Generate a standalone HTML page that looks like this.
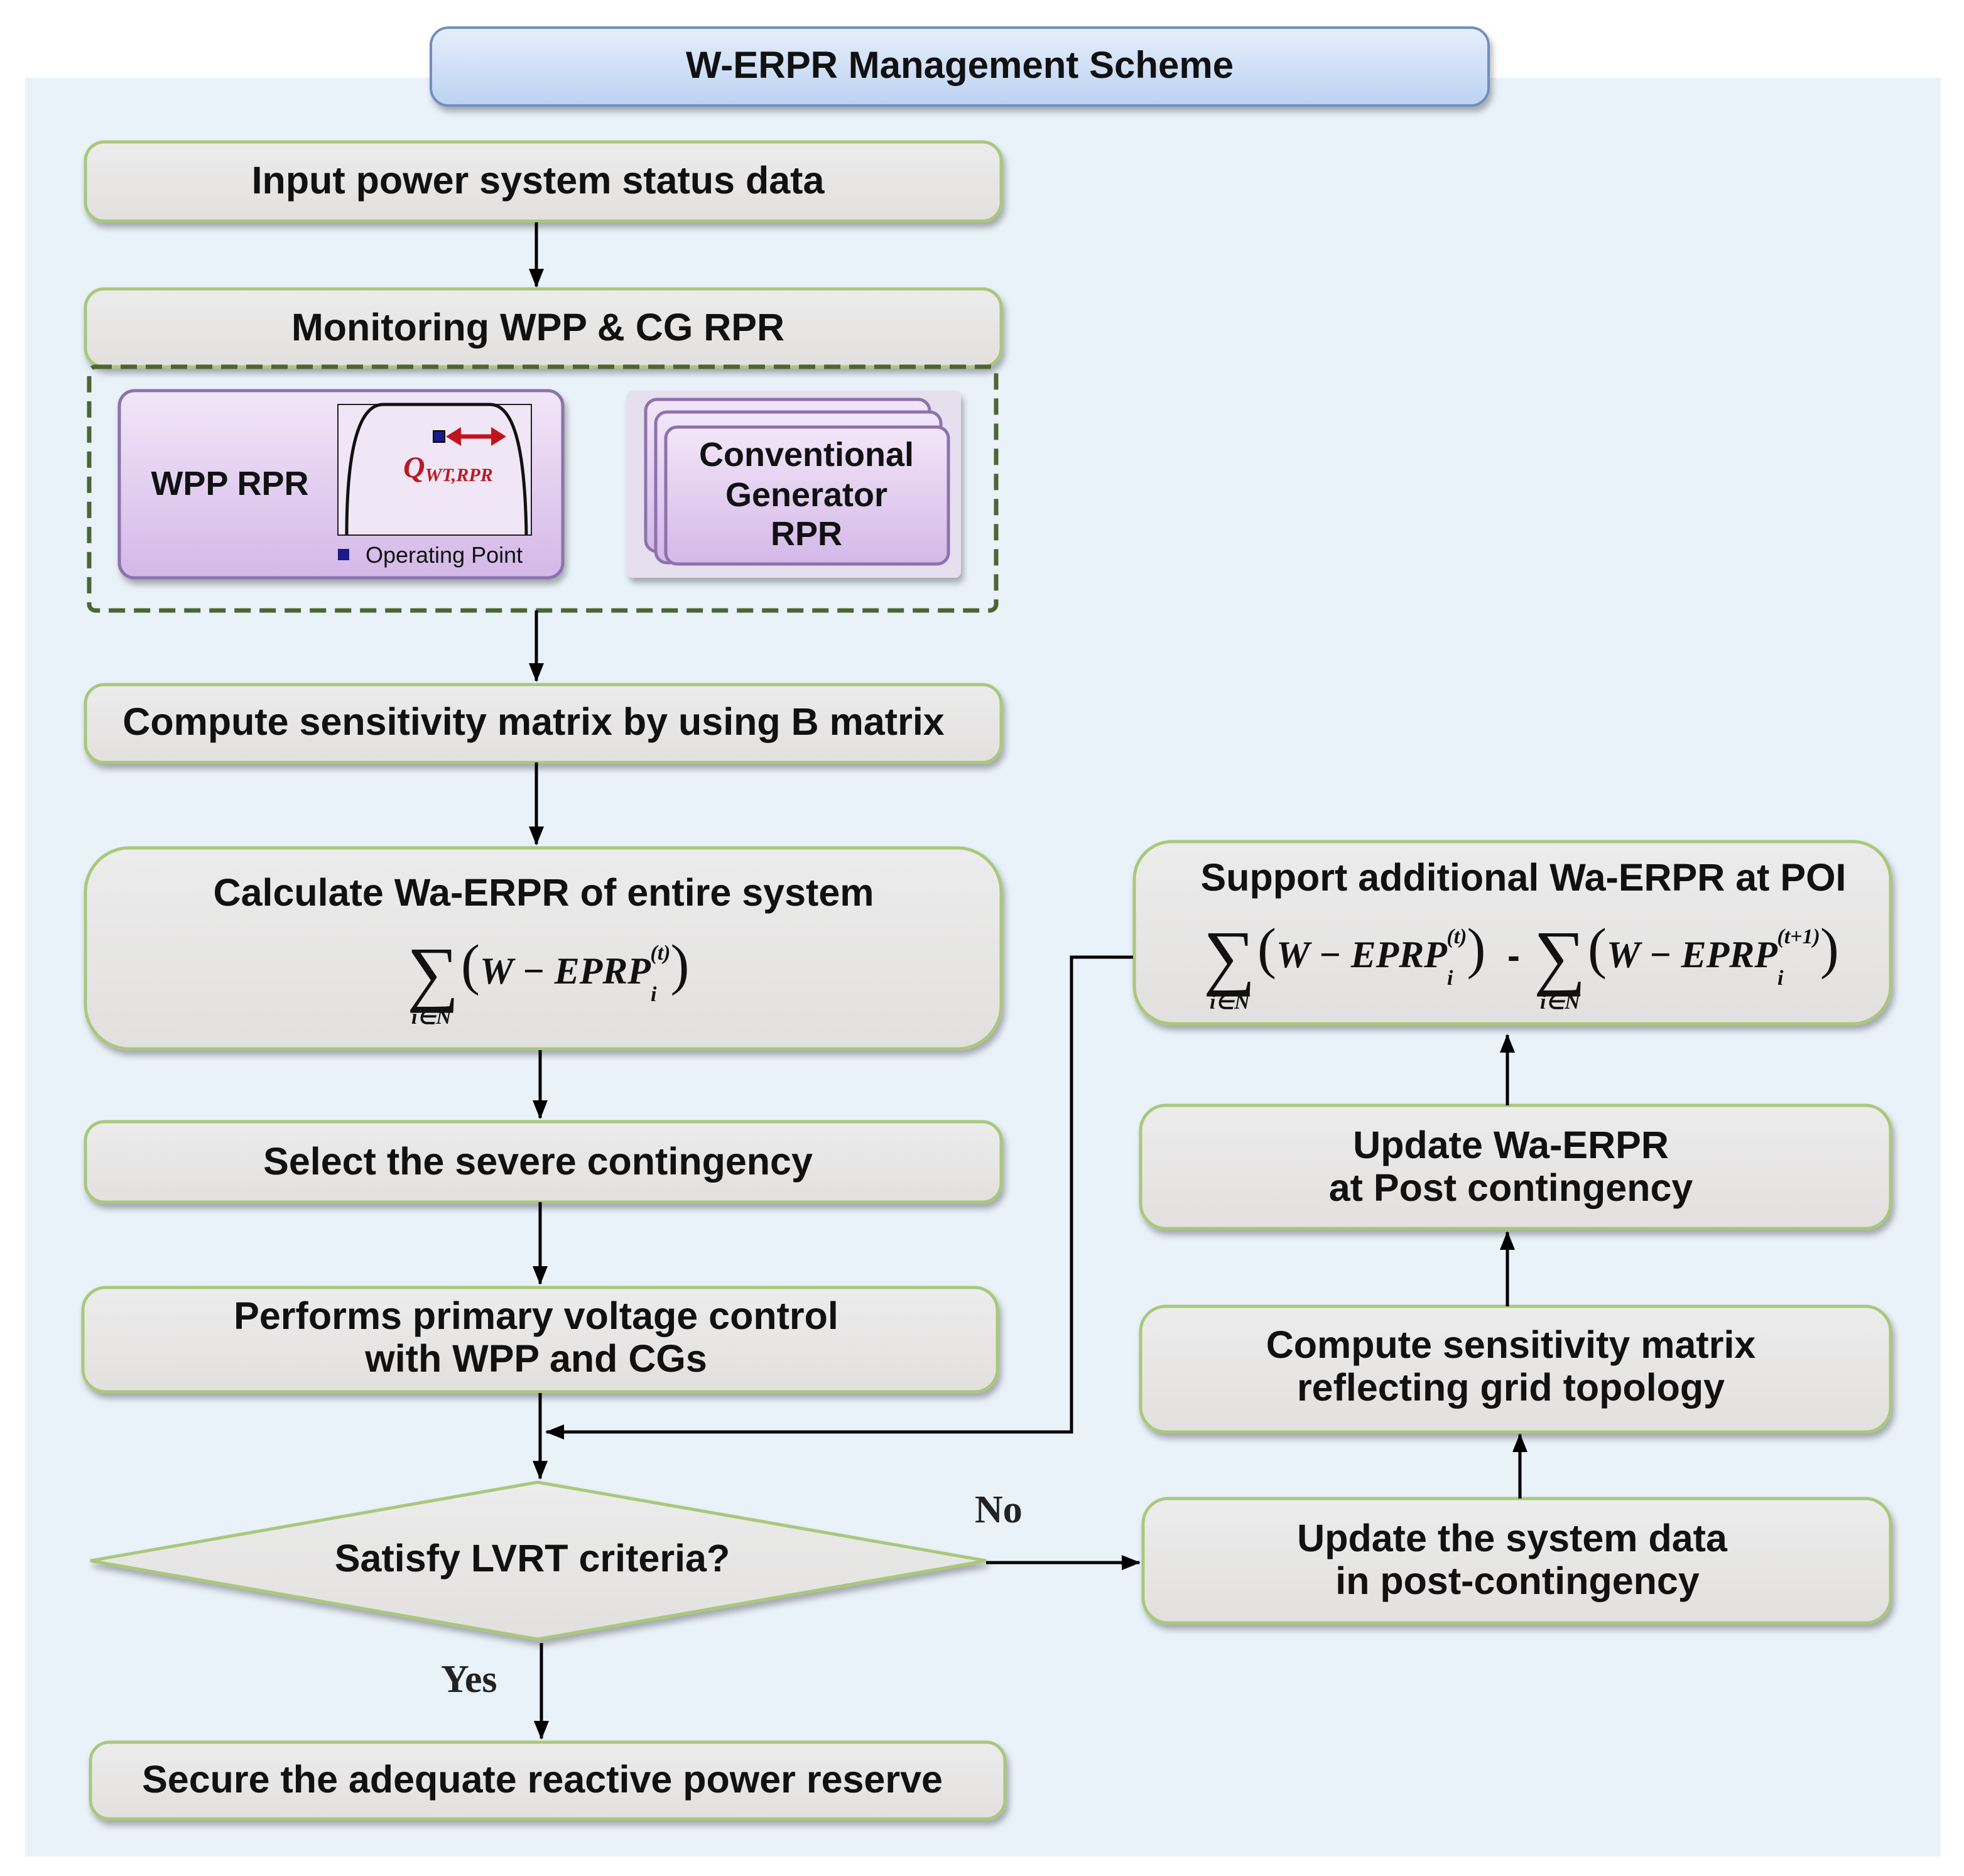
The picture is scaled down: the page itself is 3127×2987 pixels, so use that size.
<!DOCTYPE html>
<html><head><meta charset="utf-8"><style>
html,body{margin:0;padding:0;background:#fff;}
svg{display:block;}
.t{font-family:"Liberation Sans",sans-serif;font-weight:bold;fill:#111;}
.m{font-family:"Liberation Serif",serif;font-style:italic;font-weight:bold;fill:#111;}
.n{font-style:normal;font-weight:normal;}
</style></head><body>
<svg width="3127" height="2987" viewBox="0 0 3127 2987" xmlns="http://www.w3.org/2000/svg">
<defs>
<linearGradient id="gb" x1="0" y1="0" x2="0" y2="1"><stop offset="0" stop-color="#e6eefb"/><stop offset="1" stop-color="#bcd2f2"/></linearGradient>
<linearGradient id="gg" x1="0" y1="0" x2="0" y2="1"><stop offset="0" stop-color="#ececec"/><stop offset="1" stop-color="#e2e0df"/></linearGradient>
<linearGradient id="gp" x1="0" y1="0" x2="0" y2="1"><stop offset="0" stop-color="#f2e6f8"/><stop offset="1" stop-color="#d4b8e8"/></linearGradient>
<filter id="sh" x="-5%" y="-10%" width="110%" height="130%"><feDropShadow dx="4" dy="8" stdDeviation="5" flood-color="#000" flood-opacity="0.3"/></filter>
<marker id="ar" markerWidth="30" markerHeight="24" refX="28" refY="12" orient="auto" markerUnits="userSpaceOnUse" viewBox="0 0 30 24"><path d="M0,0 L30,12 L0,24 z" fill="#000"/></marker>
</defs>
<rect x="40" y="124" width="3050" height="2832" fill="#e9f1f9"/>

<rect x="686" y="44" width="1684" height="124" rx="28" fill="url(#gb)" stroke="#6f8fc0" stroke-width="4" filter="url(#sh)"/>
<text class="t" x="1528" y="124" font-size="60" text-anchor="middle">W-ERPR Management Scheme</text>

<g fill="url(#gg)" stroke="#a9c87a" stroke-width="5" filter="url(#sh)">
<rect x="136" y="226" width="1458" height="126" rx="30"/>
<rect x="136" y="460" width="1458" height="124" rx="30"/>
<rect x="136" y="1090" width="1458" height="124" rx="30"/>
<rect x="136" y="1350" width="1458" height="320" rx="70"/>
<rect x="136" y="1786" width="1458" height="128" rx="30"/>
<rect x="132" y="2050" width="1456" height="166" rx="36"/>
<rect x="144" y="2774" width="1456" height="122" rx="30"/>
<rect x="1806" y="1340" width="1204" height="290" rx="60"/>
<rect x="1816" y="1760" width="1194" height="196" rx="40"/>
<rect x="1816" y="2080" width="1194" height="200" rx="40"/>
<rect x="1820" y="2386" width="1190" height="198" rx="40"/>
<polygon points="144,2485 856,2360 1570,2485 856,2610"/>
</g>

<rect x="142" y="584" width="1444" height="388" rx="10" fill="none" stroke="#4b6633" stroke-width="7" stroke-dasharray="26,14"/>

<rect x="190" y="622" width="706" height="298" rx="24" fill="url(#gp)" stroke="#8d72ad" stroke-width="5" filter="url(#sh)"/>
<text class="t" x="366" y="788" font-size="54" text-anchor="middle">WPP RPR</text>
<rect x="538" y="644" width="308" height="208" fill="#f0e6f6" stroke="#222" stroke-width="2"/>
<path d="M552,852 C552,720 570,644 610,644 L780,644 C820,644 836,720 838,852" fill="none" stroke="#111" stroke-width="5"/>
<rect x="690" y="686" width="18" height="18" fill="#1a1a8a" stroke="#000" stroke-width="2"/>
<line x1="722" y1="695" x2="794" y2="695" stroke="#c0141c" stroke-width="7"/>
<path d="M710,695 L734,680 L734,710 z M806,695 L782,680 L782,710 z" fill="#c0141c"/>
<text class="m" x="642" y="760" font-size="48" style="fill:#b71c24">Q<tspan font-size="30" dy="6">WT,RPR</tspan></text>
<rect x="538" y="874" width="18" height="18" fill="#1a1a8a"/>
<text x="582" y="896" font-size="36" font-family="Liberation Sans,sans-serif" fill="#111">Operating Point</text>

<rect x="998" y="622" width="532" height="298" rx="10" fill="#e6dfee" filter="url(#sh)"/>
<g fill="url(#gp)" stroke="#8d72ad" stroke-width="5">
<rect x="1028" y="636" width="452" height="242" rx="18"/>
<rect x="1044" y="656" width="454" height="240" rx="18"/>
<rect x="1060" y="680" width="450" height="218" rx="18"/>
</g>
<text class="t" font-size="54" text-anchor="middle"><tspan x="1284" y="742">Conventional</tspan><tspan x="1284" y="806">Generator</tspan><tspan x="1284" y="868">RPR</tspan></text>

<text class="t" font-size="61" text-anchor="middle">
<tspan x="865" y="308">Input power system status data</tspan>
<tspan x="865" y="542">Monitoring WPP &amp; CG RPR</tspan>
<tspan x="858" y="1170">Compute sensitivity matrix by using B matrix</tspan>
<tspan x="874" y="1442">Calculate Wa-ERPR of entire system</tspan>
<tspan x="865" y="1870">Select the severe contingency</tspan>
<tspan x="862" y="2116">Performs primary voltage control</tspan>
<tspan x="862" y="2184">with WPP and CGs</tspan>
<tspan x="856" y="2502">Satisfy LVRT criteria?</tspan>
<tspan x="872" y="2854">Secure the adequate reactive power reserve</tspan>
<tspan x="2434" y="1418">Support additional Wa-ERPR at POI</tspan>
<tspan x="2414" y="1844">Update Wa-ERPR</tspan>
<tspan x="2414" y="1912">at Post contingency</tspan>
<tspan x="2414" y="2162">Compute sensitivity matrix</tspan>
<tspan x="2414" y="2230">reflecting grid topology</tspan>
<tspan x="2416" y="2470">Update the system data</tspan>
<tspan x="2416" y="2538">in post-contingency</tspan>
</text>

<!-- math left -->
<text class="m n" x="648" y="1588" font-size="116">∑</text>
<text class="m" x="655" y="1630" font-size="34">i∈N</text>
<text class="m" x="734" y="1566" font-size="60"><tspan class="n" font-size="90">(</tspan>W − EPRP<tspan font-size="34" dy="28">i</tspan><tspan font-size="34" dx="-10" dy="-66">(t)</tspan><tspan class="n" font-size="90" dy="38">)</tspan></text>

<!-- math right -->
<text class="m n" x="1916" y="1562" font-size="116">∑</text>
<text class="m" x="1926" y="1606" font-size="34">i∈N</text>
<text class="m" x="2002" y="1540" font-size="60"><tspan class="n" font-size="90">(</tspan>W − EPRP<tspan font-size="34" dy="28">i</tspan><tspan font-size="34" dx="-10" dy="-66">(t)</tspan><tspan class="n" font-size="90" dy="38">)</tspan></text>
<text class="t" x="2400" y="1542" font-size="60">-</text>
<text class="m n" x="2442" y="1562" font-size="116">∑</text>
<text class="m" x="2452" y="1606" font-size="34">i∈N</text>
<text class="m" x="2528" y="1540" font-size="60"><tspan class="n" font-size="90">(</tspan>W − EPRP<tspan font-size="34" dy="28">i</tspan><tspan font-size="34" dx="-10" dy="-66">(t+1)</tspan><tspan class="n" font-size="90" dy="38">)</tspan></text>

<g stroke="#000" stroke-width="5" fill="none" marker-end="url(#ar)">
<line x1="854" y1="354" x2="854" y2="456"/>
<line x1="854" y1="972" x2="854" y2="1084"/>
<line x1="854" y1="1214" x2="854" y2="1344"/>
<line x1="860" y1="1672" x2="860" y2="1780"/>
<line x1="860" y1="1914" x2="860" y2="2044"/>
<line x1="860" y1="2218" x2="860" y2="2354"/>
<polyline points="1804,1524 1706,1524 1706,2280 870,2280"/>
<line x1="1570" y1="2488" x2="1814" y2="2488"/>
<line x1="862" y1="2616" x2="862" y2="2768"/>
<line x1="2420" y1="2386" x2="2420" y2="2284"/>
<line x1="2400" y1="2080" x2="2400" y2="1962"/>
<line x1="2400" y1="1760" x2="2400" y2="1648"/>
</g>
<text x="1552" y="2424" font-size="62" font-family="Liberation Serif,serif" font-weight="bold" fill="#222">No</text>
<text x="702" y="2694" font-size="62" font-family="Liberation Serif,serif" font-weight="bold" fill="#222">Yes</text>
</svg>
</body></html>
